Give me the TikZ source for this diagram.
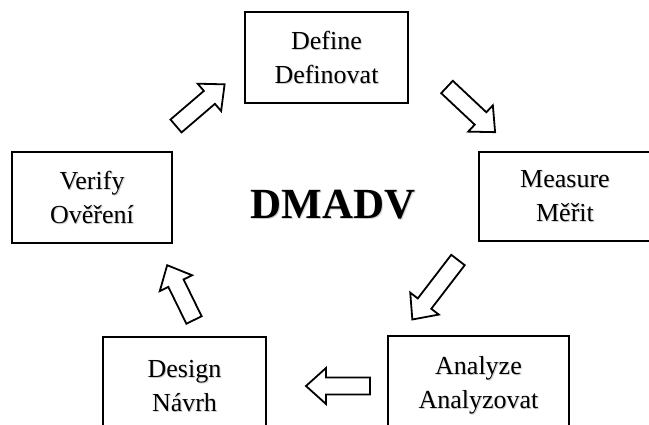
\documentclass[tikz,border=0pt]{standalone}
\usepackage{fontspec}
\setmainfont{Liberation Serif}
% text with a faint grey drop shadow
\newcommand\softshadow[2][1pt]{\makebox[0pt][l]{\hspace{#1}\raisebox{-#1}{\textcolor{black!18}{#2}}}#2}
% hollow block arrow: tail point, direction angle, length
\newcommand\flowarrow[4]{%
  \begin{scope}[shift={(#1,#2)},rotate=#3]
    \draw[flow] (0,-8.5) -- ({#4-20},-8.5) -- ({#4-20},-18) -- (#4,0)
      -- ({#4-20},18) -- ({#4-20},8.5) -- (0,8.5) -- cycle;
  \end{scope}}
\begin{document}
\begin{tikzpicture}[x=1pt,y=1pt,
  stage/.style={draw=black, line width=2.2pt, fill=white, inner sep=0pt,
    align=center, font=\fontsize{26}{34}\selectfont},
  flow/.style={draw=black, line width=1.8pt, fill=white, line join=miter},
  title/.style={font=\bfseries\fontsize{43}{43}\selectfont}]
\clip (0,0) rectangle (649,425);
\fill[white] (0,0) rectangle (649,425);

% the five stages of the cycle
\node[stage, minimum width=163pt, minimum height=91pt] (define) at (326.5,367.5)
  {\softshadow{Define}\\\softshadow{Definovat}};
\node[stage, minimum width=172pt, minimum height=89pt] (measure) at (565,228.5)
  {\softshadow{Measure}\\\softshadow{Měřit}};
\node[stage, minimum width=181pt, minimum height=99pt] (analyze) at (478.5,39.5)
  {\softshadow{Analyze}\\\softshadow{Analyzovat}};
\node[stage, minimum width=163pt, minimum height=100pt] (design) at (184.5,38)
  {\softshadow{Design}\\\softshadow{Návrh}};
\node[stage, minimum width=160pt, minimum height=91pt] (verify) at (92,227.5)
  {\softshadow{Verify}\\\softshadow{Ověření}};

% centre title
\node[title] (dmadv) at (333,220) {\softshadow[1.2pt]{DMADV}};

% block arrows between the stages
\flowarrow{176}{299}{40.6}{64}
\flowarrow{447}{338}{-43.2}{66}
\flowarrow{458}{165}{232.5}{75}
\flowarrow{370}{39}{180}{64}
\flowarrow{194}{105}{116.1}{61}
\end{tikzpicture}
\end{document}
